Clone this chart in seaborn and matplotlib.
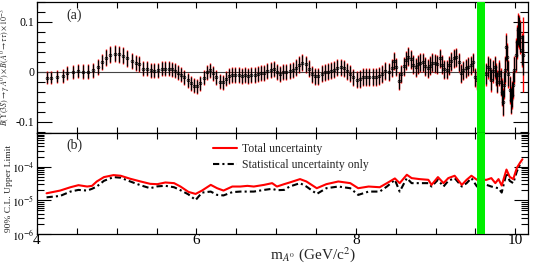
import matplotlib
matplotlib.use('Agg')
import matplotlib.pyplot as plt
from matplotlib.ticker import MultipleLocator, FixedLocator, LogLocator, NullFormatter
import pandas as pd
import seaborn as sns

sns.set_theme(style='ticks')
plt.rcParams['font.family'] = ['Liberation Serif', 'DejaVu Serif']
plt.rcParams['mathtext.fontset'] = 'stix'

# Panel (a): branching fraction scan (x 10^-3)
mass_a = [4.12, 4.18, 4.25, 4.32, 4.38, 4.45, 4.51, 4.58, 4.64, 4.70, 4.76, 4.82, 4.87, 4.92,
          4.98, 5.03, 5.08, 5.13, 5.19, 5.24, 5.28, 5.33, 5.38, 5.43, 5.47, 5.52, 5.57]
bf_a = [-0.011, -0.011, -0.009, -0.007, -0.001, 0.001, 0.002, 0.001, 0.001, 0.004, 0.011, 0.021,
        0.029, 0.035, 0.037, 0.036, 0.033, 0.028, 0.023, 0.019, 0.017, 0.007, 0.007, 0.004,
        0.003, 0.004, 0.007]
stat_a = [0.011, 0.011, 0.011, 0.012, 0.012, 0.012, 0.012, 0.013, 0.013, 0.013, 0.014, 0.014,
          0.015, 0.015, 0.015, 0.015, 0.015, 0.015, 0.014, 0.014, 0.014, 0.013, 0.013, 0.013,
          0.013, 0.013, 0.013]
tot_a = [0.013, 0.013, 0.013, 0.014, 0.014, 0.014, 0.014, 0.015, 0.015, 0.015, 0.016, 0.016,
         0.017, 0.017, 0.017, 0.017, 0.017, 0.017, 0.016, 0.016, 0.016, 0.015, 0.015, 0.015,
         0.015, 0.015, 0.015]

mass_b = [5.61, 5.65, 5.69, 5.73, 5.77, 5.81, 5.85, 5.89, 5.93, 5.97, 6.01, 6.05, 6.09, 6.13,
          6.17, 6.21, 6.25, 6.29, 6.33, 6.37,
          6.41, 6.45, 6.49, 6.53, 6.57, 6.61, 6.65, 6.69, 6.73, 6.77, 6.81, 6.85, 6.89, 6.93,
          6.97, 7.01, 7.05, 7.09, 7.13, 7.17, 7.21,
          7.25, 7.29, 7.33, 7.37, 7.41, 7.45, 7.49, 7.53, 7.57, 7.61, 7.65, 7.69, 7.73, 7.77,
          7.81, 7.85, 7.89, 7.93, 7.97, 8.01,
          8.05, 8.09, 8.13, 8.17, 8.21, 8.25, 8.29, 8.33, 8.37, 8.41, 8.45, 8.48, 8.51, 8.54, 8.57]
bf_b = [0.007, 0.007, 0.006, 0.003, -0.001, -0.005, -0.010, -0.016, -0.022, -0.027, -0.028,
        -0.022, -0.011, 0.000, 0.004, -0.002, -0.010, -0.019, -0.020, -0.013,
        -0.008, -0.006, -0.006, -0.006, -0.007, -0.006, -0.007, -0.006, -0.005, -0.003, -0.002,
        -0.001, 0.002, 0.005, 0.006, 0.000, -0.003, 0.000, 0.001, 0.002, 0.004,
        0.009, 0.015, 0.019, 0.016, 0.007, -0.004, -0.008, -0.008, -0.003, 0.000, 0.001, 0.003,
        0.005, 0.009, 0.010, 0.008, 0.002, -0.003, -0.010, -0.015,
        -0.013, -0.009, -0.009, -0.009, -0.009, -0.010, -0.008, -0.003, 0.003, 0.000, 0.008,
        0.022, 0.010, -0.018, -0.003]
stat_b = [0.013, 0.013, 0.013, 0.013, 0.013, 0.013, 0.013, 0.013, 0.013, 0.013, 0.013, 0.013,
          0.013, 0.013, 0.013, 0.013, 0.013, 0.013, 0.013, 0.013,
          0.014, 0.014, 0.014, 0.014, 0.014, 0.014, 0.014, 0.014, 0.014, 0.014, 0.014, 0.014,
          0.014, 0.014, 0.014, 0.014, 0.014, 0.014, 0.014, 0.014, 0.014,
          0.015, 0.015, 0.015, 0.015, 0.015, 0.015, 0.015, 0.015, 0.015, 0.015, 0.015, 0.015,
          0.015, 0.015, 0.015, 0.015, 0.015, 0.015, 0.015, 0.015,
          0.016, 0.016, 0.016, 0.016, 0.016, 0.016, 0.016, 0.016, 0.016, 0.016, 0.016, 0.016,
          0.016, 0.016, 0.016]
tot_b = [0.015, 0.015, 0.015, 0.015, 0.015, 0.015, 0.015, 0.015, 0.015, 0.015, 0.015, 0.015,
         0.015, 0.015, 0.015, 0.015, 0.015, 0.015, 0.015, 0.015,
         0.016, 0.016, 0.016, 0.016, 0.016, 0.016, 0.016, 0.016, 0.016, 0.016, 0.016, 0.016,
         0.016, 0.016, 0.016, 0.016, 0.016, 0.016, 0.016, 0.016, 0.016,
         0.017, 0.017, 0.017, 0.017, 0.017, 0.017, 0.017, 0.017, 0.017, 0.017, 0.017, 0.017,
         0.017, 0.017, 0.017, 0.017, 0.017, 0.017, 0.017, 0.017,
         0.018, 0.018, 0.018, 0.018, 0.018, 0.018, 0.018, 0.018, 0.018, 0.018, 0.018, 0.018,
         0.018, 0.018, 0.018]

mass_c = [8.60, 8.63, 8.66, 8.69, 8.72, 8.75, 8.78, 8.81, 8.84, 8.87, 8.90, 8.93, 8.96, 8.99,
          9.02, 9.05, 9.08, 9.11, 9.14, 9.17, 9.20, 9.23, 9.26, 9.29, 9.32, 9.35, 9.38, 9.41,
          9.44, 9.47, 9.50, 9.515,
          9.63, 9.655, 9.68, 9.70, 9.72, 9.74, 9.76, 9.775, 9.79, 9.80,
          9.815, 9.83, 9.845, 9.86, 9.875, 9.89, 9.90, 9.915, 9.93, 9.945, 9.96, 9.975, 9.99,
          10.005, 10.02, 10.035, 10.05, 10.065, 10.08, 10.095]
bf_c = [0.012, 0.024, 0.031, 0.026, 0.015, 0.010, 0.016, 0.019, 0.020, 0.012, 0.008, 0.013,
        0.019, 0.018, 0.016, 0.028, 0.015, 0.006, 0.005, 0.014, 0.022, 0.028, 0.030, 0.020,
        -0.002, 0.004, 0.008, 0.011, 0.014, 0.020, -0.010, -0.016,
        -0.004, 0.010, 0.006, -0.016, 0.002, 0.010, -0.005, -0.019, -0.005, 0.001,
        -0.020, -0.040, -0.060, -0.025, 0.005, 0.050, 0.030, -0.003, -0.035, -0.056, -0.045,
        -0.025, 0.005,
        0.034, 0.060, 0.085, 0.080, 0.070, 0.045, 0.035]
stat_c = [0.017, 0.017, 0.017, 0.017, 0.017, 0.017, 0.017, 0.017, 0.017, 0.017, 0.017, 0.017,
          0.017, 0.017, 0.017, 0.017, 0.017, 0.017, 0.017, 0.017, 0.017, 0.017, 0.017, 0.017,
          0.017, 0.017, 0.017, 0.017, 0.017, 0.017, 0.017, 0.017,
          0.020, 0.020, 0.020, 0.020, 0.020, 0.020, 0.020, 0.020, 0.020, 0.020,
          0.025, 0.025, 0.025, 0.025, 0.025, 0.025, 0.025, 0.025, 0.025, 0.025, 0.025, 0.025,
          0.025,
          0.030, 0.030, 0.030, 0.030, 0.030, 0.030, 0.040]
tot_c = [0.019, 0.019, 0.019, 0.019, 0.019, 0.019, 0.019, 0.019, 0.019, 0.019, 0.019, 0.019,
         0.019, 0.019, 0.019, 0.019, 0.019, 0.019, 0.019, 0.019, 0.019, 0.019, 0.019, 0.019,
         0.019, 0.019, 0.019, 0.019, 0.019, 0.019, 0.019, 0.019,
         0.023, 0.023, 0.023, 0.023, 0.023, 0.023, 0.023, 0.023, 0.023, 0.023,
         0.028, 0.028, 0.028, 0.028, 0.028, 0.028, 0.028, 0.028, 0.028, 0.028, 0.028, 0.028,
         0.028,
         0.034, 0.034, 0.034, 0.034, 0.034, 0.034, 0.075]

# Panel (b): 90% C.L. upper limits, in units of 1e-5
mass_ul = [4.12, 4.29, 4.42, 4.52, 4.63, 4.69, 4.75, 4.84, 4.96, 5.05, 5.17, 5.30, 5.42, 5.51,
           5.61, 5.72, 5.80, 5.90, 5.99, 6.07, 6.18, 6.26, 6.34, 6.45, 6.55, 6.64, 6.72, 6.85,
           6.95, 7.01, 7.10, 7.17, 7.30, 7.38, 7.51, 7.63, 7.78, 7.93, 8.03, 8.16, 8.30, 8.39,
           8.49, 8.55, 8.64, 8.70, 8.80, 8.91, 8.95, 9.03, 9.10, 9.16, 9.24, 9.33, 9.39, 9.45,
           9.52, 9.64, 9.70, 9.75, 9.79, 9.83, 9.89, 9.93, 9.975, 10.02, 10.06, 10.09]
ul_total = [1.62, 1.95, 2.45, 2.82, 2.57, 2.69, 3.63, 4.90, 5.62, 5.37, 4.37, 3.63, 3.09, 3.02,
            3.39, 3.24, 2.57, 1.78, 1.55, 1.95, 2.88, 2.29, 1.95, 2.57, 2.57, 2.69, 2.57, 2.88,
            3.24, 2.57, 3.02, 3.39, 4.27, 3.63, 2.29, 3.02, 3.63, 3.24, 2.29, 2.57, 2.45, 3.24,
            4.47, 3.24, 5.75, 4.57, 4.27, 4.07, 2.88, 4.90, 3.24, 4.57, 5.37, 2.88, 4.07, 5.37,
            4.07, 4.07, 4.57, 3.24, 4.27, 2.75, 8.20, 5.00, 4.27, 9.20, 13.1, 16.6]
ul_stat = [1.23, 1.35, 1.82, 2.04, 1.95, 2.20, 2.57, 3.80, 4.90, 4.70, 3.63, 2.80, 2.29, 2.60,
           2.70, 2.45, 2.00, 1.50, 1.02, 1.70, 1.82, 1.45, 1.40, 1.75, 1.82, 1.82, 1.82, 2.04,
           2.20, 2.00, 2.04, 2.57, 3.24, 2.57, 1.55, 2.29, 2.57, 2.29, 1.45, 1.82, 1.82, 2.57,
           4.07, 1.82, 4.57, 3.24, 3.24, 3.24, 2.57, 4.07, 2.57, 3.80, 4.57, 2.57, 3.24, 4.57,
           2.57, 2.88, 2.57, 2.40, 2.29, 1.70, 6.46, 3.80, 3.24, 7.24, 11.7, 13.0]

mass = mass_a + mass_b + mass_c
bf = bf_a + bf_b + bf_c
stat = stat_a + stat_b + stat_c
tot = tot_a + tot_b + tot_c

df_ul = pd.DataFrame({'mass': mass_ul,
                      'total': [v * 1e-5 for v in ul_total],
                      'stat': [v * 1e-5 for v in ul_stat]})

fig = plt.figure(figsize=(5.4, 2.64), dpi=100)
ax1 = fig.add_axes([37 / 540, 1 - 133 / 264, 491 / 540, 131 / 264])
ax2 = fig.add_axes([37 / 540, 1 - 234 / 264, 491 / 540, 101 / 264])

# (a) scan with stat (black) and total (red) errors
ax1.axhline(0, color='#444444', lw=0.8, zorder=1)
ax1.errorbar(mass, bf, yerr=tot, fmt='none', ecolor='red', elinewidth=1.0, zorder=2)
ax1.errorbar(mass, bf, yerr=stat, fmt='none', ecolor='black', elinewidth=0.9, zorder=3)
ax1.plot(mass, bf, 'o', ms=2, mfc='none', mec='black', mew=0.5, zorder=4)
ax1.axvspan(9.525, 9.62, color='#00ee00', lw=0, zorder=5)
ax1.set_xlim(4, 10.16)
ax1.set_ylim(-0.122, 0.14)
ax1.yaxis.set_major_locator(FixedLocator([-0.1, 0, 0.1]))
ax1.set_yticklabels(['-0.1', '0', '0.1'])
ax1.yaxis.set_minor_locator(MultipleLocator(0.02))
ax1.set_ylabel(r'$\mathit{B}(\Upsilon(3S)\rightarrow\gamma\,A^0)\times\mathit{B}(A^0\rightarrow\tau\tau)\times10^{-3}$',
               fontsize=5.7, labelpad=0)
ax1.yaxis.set_label_coords(-0.05, 0.5)
ax1.text(0.06, 0.9, '(a)', transform=ax1.transAxes, fontsize=10, va='center')

# (b) upper limits
sns.lineplot(data=df_ul, x='mass', y='total', ax=ax2, color='red', lw=1.5,
             label='Total uncertainty', zorder=3)
sns.lineplot(data=df_ul, x='mass', y='stat', ax=ax2, color='black', lw=1.5,
             linestyle=(0, (3, 1.5, 1, 1.5)), label='Statistical uncertainty only', zorder=2)
ax2.axvspan(9.525, 9.62, color='#00ee00', lw=0, zorder=5)
ax2.set_yscale('log')
ax2.set_xlim(4, 10.16)
ax2.set_ylim(1e-6, 1e-3)
ax2.yaxis.set_major_locator(FixedLocator([1e-6, 1e-5, 1e-4, 1e-3]))
ax2.set_yticklabels(['$10^{-6}$', '$10^{-5}$', '$10^{-4}$', ''])
ax2.yaxis.set_minor_locator(LogLocator(base=10, subs=[2, 3, 4, 5, 6, 7, 8, 9]))
ax2.yaxis.set_minor_formatter(NullFormatter())
ax2.set_ylabel('90% C.L. Upper Limit', fontsize=6.8)
ax2.yaxis.set_label_coords(-0.048, 0.45)
ax2.set_xlabel('')
ax2.text(0.06, 0.88, '(b)', transform=ax2.transAxes, fontsize=10, va='center')
ax2.legend(loc='upper left', bbox_to_anchor=(0.345, 0.97), frameon=False, fontsize=8.5,
           handlelength=2.0, handletextpad=0.4, labelspacing=0.3, borderaxespad=0.2)

for ax in (ax1, ax2):
    ax.xaxis.set_major_locator(MultipleLocator(2))
    ax.xaxis.set_minor_locator(MultipleLocator(0.5))
    ax.tick_params(which='both', direction='in', top=True, right=True, width=0.8, colors='black')
    ax.tick_params(axis='x', which='both', length=4)
    for sp in ax.spines.values():
        sp.set_linewidth(0.9)
        sp.set_color('black')

ax1.tick_params(axis='y', which='major', length=11, labelsize=8.5, pad=2)
ax1.tick_params(axis='y', which='minor', length=5.5)
ax1.tick_params(axis='x', labelbottom=False)
ax2.tick_params(axis='y', which='major', length=10, labelsize=8, pad=2)
ax2.tick_params(axis='y', which='minor', length=5)
ax2.tick_params(axis='x', labelsize=11, pad=0)

fig.text(313 / 540, 1 - 255 / 264, r'm$_{A^0}$ (GeV/c$^2$)', ha='center', va='center', fontsize=11)

fig.savefig('out.png', dpi=100)
